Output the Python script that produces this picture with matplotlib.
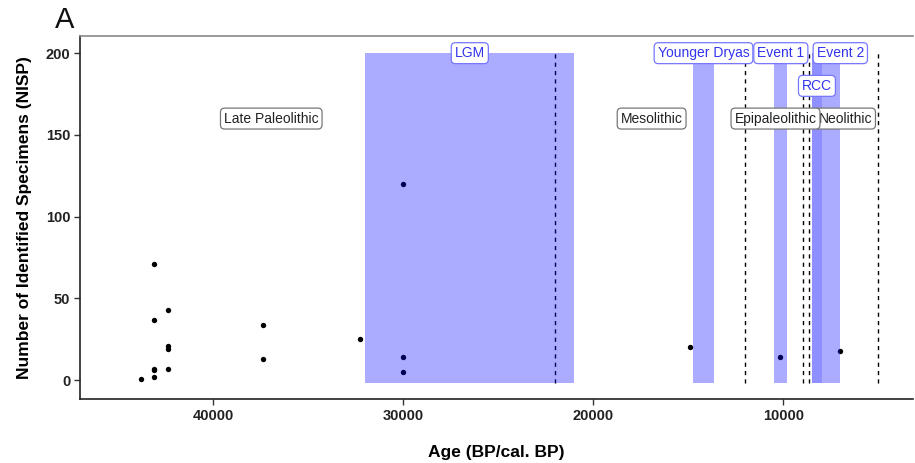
import matplotlib
matplotlib.use("Agg")
import matplotlib.pyplot as plt

plt.rcParams['font.family'] = ['Liberation Sans', 'DejaVu Sans']

# Data points
ages = [43800, 43100, 43100, 43100, 43100, 43100, 42400, 42400, 42400, 42400,
        37400, 37400, 32300, 30000, 30000, 30000, 14900, 10200, 7000]
nisp = [1, 71, 37, 7, 6, 2, 43, 21, 19, 7,
        34, 13, 25, 120, 14, 5, 20, 14, 18]

# Climate events (start, end)
event_names = ["LGM", "Younger Dryas", "Event 1", "Event 2", "RCC"]
event_start = [32000, 14750, 10500, 8500, 8500]
event_end = [21000, 13650, 9800, 7000, 7950]
event_alpha = [0.33, 0.33, 0.33, 0.33, 0.16]
event_label_x = [26500, 14200, 10130, 7000, 8230]
event_label_y = [200, 200, 200, 200, 180]

# Period boundaries and labels
boundaries = [22000, 12000, 8950, 8650, 5000]
period_names = ["Late Paleolithic", "Mesolithic", "Epipaleolithic", "Neolithic"]
period_x = [36950, 16930, 10410, 6740]
period_y = [160, 160, 160, 160]
period_z = [5, 5, 5.5, 5]

fig = plt.figure(figsize=(9.15, 4.63), dpi=100)
W, H = 915, 463
ax = fig.add_axes([80 / W, 1 - 399 / H, (913 - 80) / W, (399 - 36) / H])

ax.scatter(ages, nisp, s=15, color='black', zorder=2, linewidths=0)

for nm, s, e, a in zip(event_names, event_start, event_end, event_alpha):
    ax.fill_between([s, e], -2, 200, color='blue', alpha=a, linewidth=0, zorder=3)

for b in boundaries:
    ax.plot([b, b], [-2, 200], color='black', linestyle=(0, (3, 3)), linewidth=1.0, zorder=1)

for nm, x, y in zip(event_names, event_label_x, event_label_y):
    ax.text(x, y, nm, ha='center', va='center', fontsize=10, color='#3333ee', zorder=6,
            bbox=dict(boxstyle='round,pad=0.25,rounding_size=0.3', facecolor='white',
                      edgecolor='#7777ff', linewidth=0.9))

for nm, x, y, z in zip(period_names, period_x, period_y, period_z):
    ax.text(x, y, nm, ha='center', va='center', fontsize=10, color='#222222', zorder=z,
            bbox=dict(boxstyle='round,pad=0.25,rounding_size=0.3', facecolor='white',
                      edgecolor='#777777', linewidth=0.9))

ax.set_xlim(47016, 3174)
ax.set_ylim(-11.5, 210.5)
ax.set_xticks([40000, 30000, 20000, 10000])
ax.set_yticks([0, 50, 100, 150, 200])
ax.tick_params(axis='both', direction='out', length=4, width=1, color='#333333',
               labelsize=10.5, labelcolor='#222222', pad=3)
for lab in ax.get_xticklabels() + ax.get_yticklabels():
    lab.set_fontweight('bold')

ax.spines['right'].set_visible(False)
ax.spines['top'].set_color('#888888')
ax.spines['top'].set_linewidth(1.2)
for sp in ['left', 'bottom']:
    ax.spines[sp].set_color('#222222')
    ax.spines[sp].set_linewidth(1.2)

ax.set_xlabel("Age (BP/cal. BP)", fontsize=12.5, fontweight='bold', labelpad=16)
ax.set_ylabel("Number of Identified Specimens (NISP)", fontsize=12.5, fontweight='bold', labelpad=10)

fig.text(55 / W, 1 - 20 / H, "A", fontsize=21, ha='left', va='center', color='#111111')

fig.savefig("out.png", dpi=100)
